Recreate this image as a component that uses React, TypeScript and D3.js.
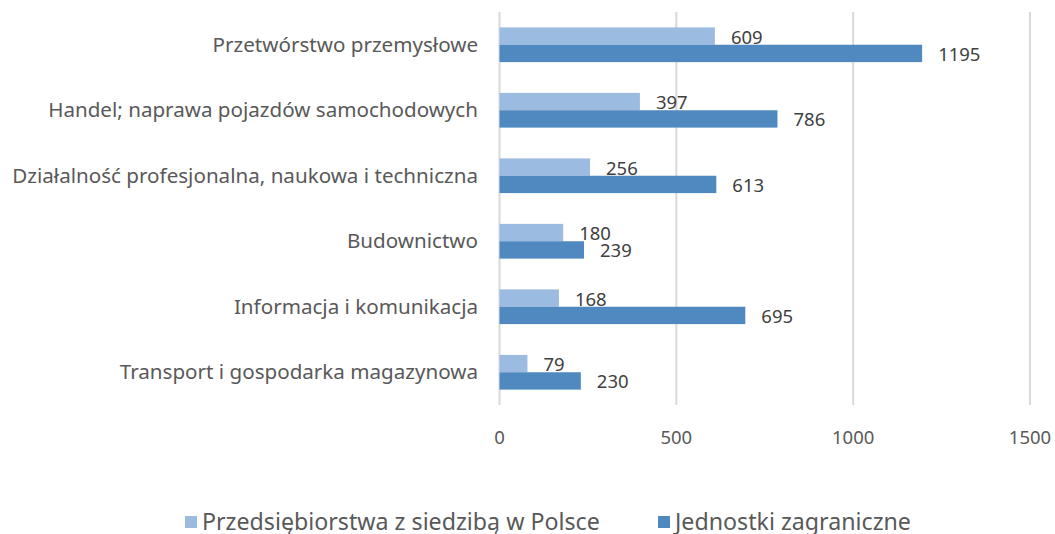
import React from "react";
import * as d3 from "d3";

const categories = [
  "Przetwórstwo przemysłowe",
  "Handel; naprawa pojazdów samochodowych",
  "Działalność profesjonalna, naukowa i techniczna",
  "Budownictwo",
  "Informacja i komunikacja",
  "Transport i gospodarka magazynowa",
];
const seriesNames = ["Przedsiębiorstwa z siedzibą w Polsce", "Jednostki zagraniczne"];
const polska = [609, 397, 256, 180, 168, 79];
const zagraniczne = [1195, 786, 613, 239, 695, 230];
const ticks = [0, 500, 1000, 1500];
const colors = ["#9BBBE0", "#4F89BF"];

export default function App() {
  const W = 1055, H = 534;
  const x = d3.scaleLinear().domain([0, 1500]).range([499.5, 1030]);
  const y = d3.scaleBand<string>().domain(categories).range([12, 405]).paddingInner(0.47).paddingOuter(0.235);
  const sub = d3.scaleBand<number>().domain([0, 1]).range([0, y.bandwidth()]);
  const series = [polska, zagraniczne];
  const font = "'Noto Sans', 'Open Sans', sans-serif";
  return (
    <svg width={W} height={H} style={{ position: "absolute", left: 0, top: 0, background: "#fff" }} fontFamily={font}>
      {ticks.map((t) => (
        <g key={t}>
          <line x1={x(t)} x2={x(t)} y1={12} y2={405} stroke="#D9D9D9" strokeWidth={2} />
          <text x={x(t)} y={444} textAnchor="middle" fontSize={18.5} fill="#595959">{t}</text>
        </g>
      ))}
      {categories.map((c, i) => (
        <g key={c}>
          <text x={478} y={(y(c) as number) + y.bandwidth() / 2} dy="0.35em" textAnchor="end" fontSize={20.6} fill="#595959">{c}</text>
          {series.map((s, k) => {
            const by = (y(c) as number) + (sub(k) as number);
            return (
              <g key={k}>
                <rect x={x(0)} y={by} width={x(s[i]) - x(0)} height={sub.bandwidth()} fill={colors[k]} />
                <text x={x(s[i]) + 16} y={by + sub.bandwidth() / 2 + 1} dy="0.35em" fontSize={18.5} fill="#404040">{s[i]}</text>
              </g>
            );
          })}
        </g>
      ))}
      {seriesNames.map((n, k) => {
        const lx = k === 0 ? 185 : 658;
        return (
          <g key={n}>
            <rect x={lx} y={516} width={12} height={12} fill={colors[k]} />
            <text x={lx + 17} y={522} dy="0.35em" fontSize={23.2} fill="#595959">{n}</text>
          </g>
        );
      })}
    </svg>
  );
}
